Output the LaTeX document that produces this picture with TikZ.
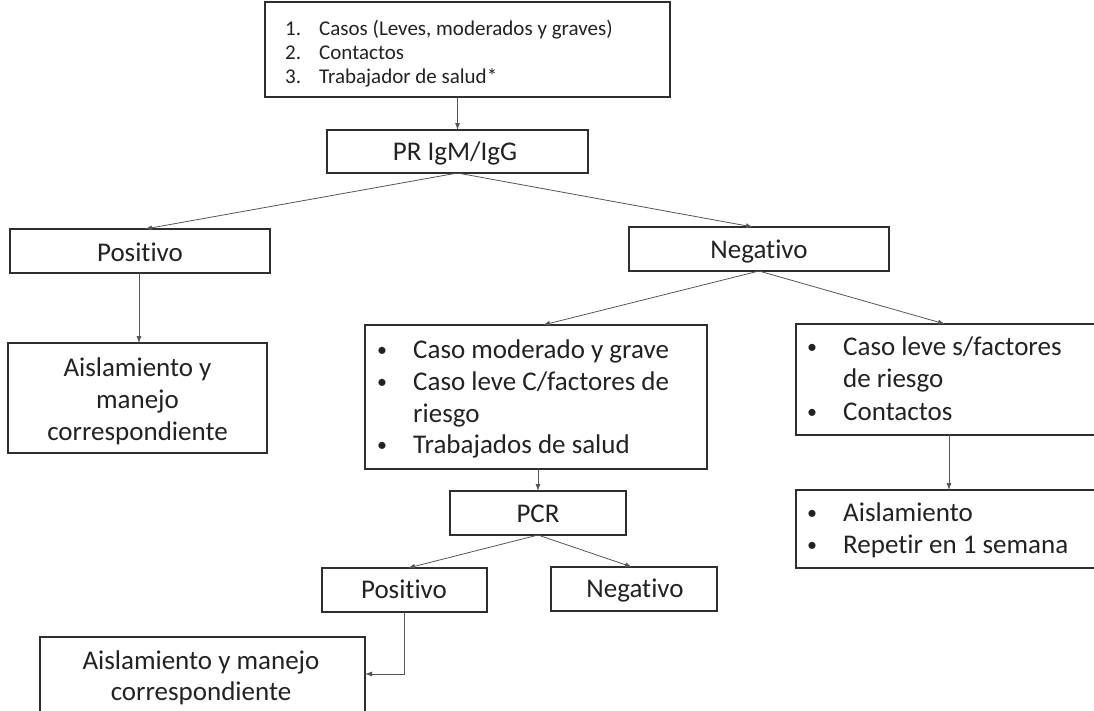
\documentclass[tikz,border=0pt]{standalone}
\usepackage{fontspec}
\setmainfont{Carlito}[RawFeature={-liga}]
\usetikzlibrary{arrows.meta}
\definecolor{boxc}{HTML}{2E2E2E}
\definecolor{arrc}{HTML}{555555}
\definecolor{txtc}{HTML}{222222}
\begin{document}
\begin{tikzpicture}[x=1pt,y=-1pt,
  box/.style={draw=boxc,line width=1.3pt,inner sep=0pt,outer sep=0pt},
  arr/.style={draw=arrc,line width=0.8pt,-{Latex[length=7pt,width=5pt]}},
  lbl/.style={font=\fontsize{27}{32}\selectfont,text=txtc,inner sep=0pt,anchor=base},
  lbll/.style={lbl,anchor=base west},
  bul/.style={font=\fontsize{20}{24}\selectfont,text=txtc,inner sep=0pt,anchor=base},
  sml/.style={font=\fontsize{21}{24}\selectfont,text=txtc,inner sep=0pt,anchor=base west}]
\useasboundingbox (0,0) rectangle (1094,710);
\clip (0,0) rectangle (1094,710);
\fill[white] (0,0) rectangle (1094,710);

% boxes
\node[box,minimum width=405pt,minimum height=95pt] (top) at (467.5,49.5) {};
\node[box,minimum width=261pt,minimum height=43pt] (pr) at (457.5,151.5) {};
\node[box,minimum width=260pt,minimum height=44pt] (pos1) at (140,251) {};
\node[box,minimum width=260pt,minimum height=44pt] (neg1) at (759,249) {};
\node[box,minimum width=259pt,minimum height=110pt] (ais1) at (137.5,398) {};
\node[box,minimum width=342pt,minimum height=144pt] (mid) at (536,397) {};
\node[box,minimum width=314pt,minimum height=111pt] (right) at (953,379.5) {};
\node[box,minimum width=314pt,minimum height=78pt] (rep) at (953,529) {};
\node[box,minimum width=176pt,minimum height=44pt] (pcr) at (538,513) {};
\node[box,minimum width=165pt,minimum height=44pt] (pos2) at (404.5,590) {};
\node[box,minimum width=166pt,minimum height=44pt] (neg2) at (634,589) {};
\node[box,minimum width=325pt,minimum height=103pt] (bot) at (202.5,688.5) {};

% texts
\node[sml] (n1) at (285,35) {1.};
\node[sml] (n2) at (285,59) {2.};
\node[sml] (n3) at (285,83) {3.};
\node[sml] (t1) at (319,35) {Casos (Leves, moderados y graves)};
\node[sml] (t2) at (319,59) {Contactos};
\node[sml] (t3) at (319,83) {Trabajador de salud*};

\node[lbl] (prt) at (455,160) {PR IgM/IgG};
\node[lbl] (pos1t) at (140,261) {Positivo};
\node[lbl] (neg1t) at (759,258) {Negativo};

\node[lbl] (a1) at (137.5,376) {Aislamiento y};
\node[lbl] (a2) at (137.5,408) {manejo};
\node[lbl] (a3) at (137.5,440) {correspondiente};

\node[bul] (mb1) at (382,356) {•};
\node[bul] (mb2) at (382,388) {•};
\node[bul] (mb4) at (382,451) {•};
\node[lbll] (m1) at (413,358) {Caso moderado y grave};
\node[lbll] (m2) at (413,390) {Caso leve C/factores de};
\node[lbll] (m3) at (413,422) {riesgo};
\node[lbll] (m4) at (413,453) {Trabajados de salud};

\node[bul] (rb1) at (812,353) {•};
\node[bul] (rb3) at (812,418) {•};
\node[lbll] (r1) at (843,355) {Caso leve s/factores};
\node[lbll] (r2) at (843,387) {de riesgo};
\node[lbll] (r3) at (843,420) {Contactos};

\node[bul] (pb1) at (812,519) {•};
\node[bul] (pb2) at (812,551) {•};
\node[lbll] (p1) at (843,521) {Aislamiento};
\node[lbll] (p2) at (843,553) {Repetir en 1 semana};

\node[lbl] (pcrt) at (538,522) {PCR};
\node[lbl] (pos2t) at (404,598) {Positivo};
\node[lbl] (neg2t) at (635,597) {Negativo};

\node[lbl] (b1) at (201,669) {Aislamiento y manejo};
\node[lbl] (b2) at (201,700) {correspondiente};

% connectors
\draw[arr] (pr.north |- top.south) -- (pr.north);
\draw[arr] (pr.south) -- ([xshift=5pt]pos1.north);
\draw[arr] (pr.south) -- ([xshift=-6pt]neg1.north);
\draw[arr] ([xshift=-1pt]pos1.south) -- ([xshift=1.5pt]ais1.north);
\draw[arr] (neg1.south) -- ([xshift=7pt]mid.north);
\draw[arr] (neg1.south) -- ([xshift=149pt]right.north west);
\draw[arr] ([xshift=153pt]right.south west) -- ([xshift=153pt]rep.north west);
\draw[arr] (pcr.north |- mid.south) -- (pcr.north);
\draw[arr] (pcr.south) -- ([xshift=3.5pt]pos2.north);
\draw[arr] (pcr.south) -- ([xshift=-2pt]neg2.north);
\draw[arr] (pos2.south) |- ([yshift=14.5pt]bot.east);
\end{tikzpicture}
\end{document}
